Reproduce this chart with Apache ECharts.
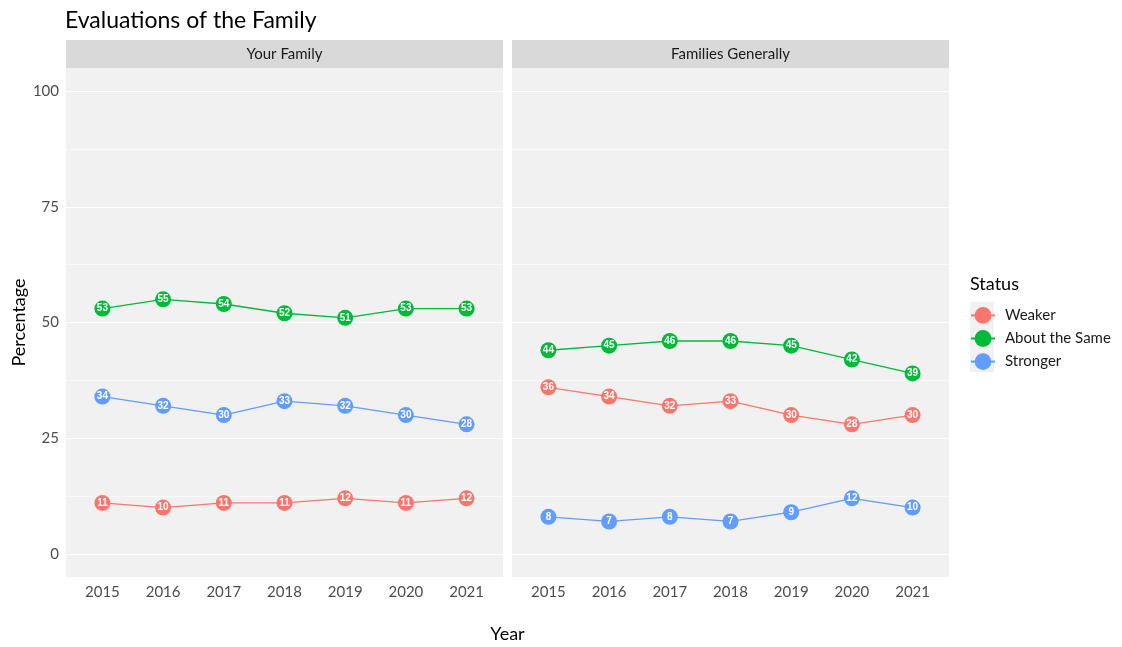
<!DOCTYPE html>
<html>
<head>
<meta charset="utf-8">
<script src="https://cdn.jsdelivr.net/npm/echarts@6/dist/echarts.min.js"></script>
<style>
  html, body { margin: 0; padding: 0; background: #fff; }
  #chart { width: 1122px; height: 647px; }
</style>
</head>
<body>
<div id="chart"></div>
<script>
  const years = [2015, 2016, 2017, 2018, 2019, 2020, 2021];
  const panels = ['Your Family', 'Families Generally'];
  const statuses = ['Weaker', 'About the Same', 'Stronger'];
  const statusColors = ['#F8766D', '#00BA38', '#619CFF'];

  // values per panel, in the order of statuses
  const yourWeaker = [11, 10, 11, 11, 12, 11, 12];
  const yourSame = [53, 55, 54, 52, 51, 53, 53];
  const yourStronger = [34, 32, 30, 33, 32, 30, 28];
  const generalWeaker = [36, 34, 32, 33, 30, 28, 30];
  const generalSame = [44, 45, 46, 46, 45, 42, 39];
  const generalStronger = [8, 7, 8, 7, 9, 12, 10];
  const panelValues = [
    [yourWeaker, yourSame, yourStronger],
    [generalWeaker, generalSame, generalStronger],
  ];
  const yTicks = [0, 25, 50, 75, 100];

  const font = 'Lato, "Open Sans", sans-serif';
  const panelTop = 68;
  const panelHeight = 509;
  const panelWidth = 437;
  const panelLefts = [66, 512];
  const stripHeight = 28;
  const panelFill = '#F1F1F1';

  const isInt = (v, step) => Math.abs(v / step - Math.round(v / step)) < 1e-6;

  // gridlines: ticks every 2.5 from -5, major every 25, minor at 12.5 offsets
  const lineColors = [];
  for (let i = 0; i < 10; i++) {
    const v = -5 + 2.5 * i;
    if (isInt(v, 25)) lineColors.push('#FFFFFF');
    else if (isInt(v - 12.5, 25)) lineColors.push('rgba(255,255,255,0.6)');
    else lineColors.push('rgba(0,0,0,0)');
  }

  const grids = panelLefts.map((left) => ({
    left, top: panelTop, width: panelWidth, height: panelHeight,
    show: true, backgroundColor: panelFill, borderWidth: 0,
  }));

  const xAxes = panelLefts.map((_, p) => ({
    type: 'value', gridIndex: p, min: 2014.4, max: 2021.6, interval: 0.2,
    axisLine: {show: false}, axisTick: {show: false}, splitLine: {show: false},
    axisLabel: {
      margin: 8, color: '#4D4D4D', fontSize: 15, fontFamily: font,
      formatter: (v) => (years.some((y) => Math.abs(y - v) < 1e-6) ? String(Math.round(v)) : ''),
    },
  }));

  const yAxes = panelLefts.map((_, p) => ({
    type: 'value', gridIndex: p, min: -5, max: 105, interval: 2.5,
    axisLine: {show: false}, axisTick: {show: false},
    splitLine: {show: true, lineStyle: {color: lineColors, width: 1}},
    name: p === 0 ? 'Percentage' : '', nameLocation: 'middle', nameGap: 38, nameRotate: 90,
    nameTextStyle: {fontSize: 18, color: '#000', fontFamily: font},
    axisLabel: {
      show: p === 0, margin: 7, color: '#4D4D4D', fontSize: 15, fontFamily: font,
      formatter: (v) => {
        const t = yTicks.find((k) => Math.abs(k - v) < 1e-6);
        return t === undefined ? '' : String(t);
      },
    },
  }));

  const series = [];
  panelValues.forEach((vals, p) => {
    vals.forEach((arr, s) => {
      series.push({
        type: 'line', name: statuses[s], xAxisIndex: p, yAxisIndex: p,
        data: years.map((y, i) => [y, arr[i]]),
        symbol: 'circle', symbolSize: 16,
        lineStyle: {width: 1.3, color: statusColors[s]},
        itemStyle: {color: statusColors[s]},
        label: {
          show: true, position: 'inside', color: '#fff', fontSize: 10,
          fontWeight: 'bold', fontFamily: '"Liberation Sans", Arial, sans-serif',
          formatter: (d) => d.value[1],
        },
        emphasis: {disabled: true},
        z: 3,
      });
    });
  });

  const graphics = [];
  panelLefts.forEach((left, p) => {
    graphics.push({
      type: 'rect', left, top: panelTop - stripHeight,
      shape: {width: panelWidth, height: stripHeight},
      style: {fill: '#D9D9D9'}, silent: true,
    });
    graphics.push({
      type: 'text', x: left + panelWidth / 2, y: panelTop - stripHeight / 2,
      style: {text: panels[p], fill: '#1A1A1A', font: `15px ${font}`, align: 'center', verticalAlign: 'middle'},
      silent: true,
    });
  });
  graphics.push({
    type: 'text', x: (panelLefts[0] + panelLefts[1] + panelWidth) / 2, y: 634,
    style: {text: 'Year', fill: '#000', font: `18px ${font}`, align: 'center', verticalAlign: 'middle'},
  });
  graphics.push({
    type: 'text', x: 970, y: 284,
    style: {text: 'Status', fill: '#000', font: `18px ${font}`, align: 'left', verticalAlign: 'middle'},
  });
  graphics.push({
    type: 'rect', left: 970, top: 302, shape: {width: 24, height: 70},
    style: {fill: panelFill}, silent: true, z: -1,
  });

  const chart = echarts.init(document.getElementById('chart'), null, {renderer: 'canvas'});
  chart.setOption({
    animation: false,
    backgroundColor: '#fff',
    title: {
      text: 'Evaluations of the Family', left: 60, top: 4,
      textStyle: {fontSize: 23, fontWeight: 'normal', color: '#000', fontFamily: font},
    },
    legend: {
      data: statuses, orient: 'vertical', left: 970, top: 307, padding: 0,
      itemWidth: 24, itemHeight: 21, itemGap: 6.3,
      textStyle: {fontSize: 15, color: '#1A1A1A', fontFamily: font, padding: [0, 0, 0, 5]},
    },
    grid: grids,
    xAxis: xAxes,
    yAxis: yAxes,
    series,
    graphic: graphics,
  });
</script>
</body>
</html>
